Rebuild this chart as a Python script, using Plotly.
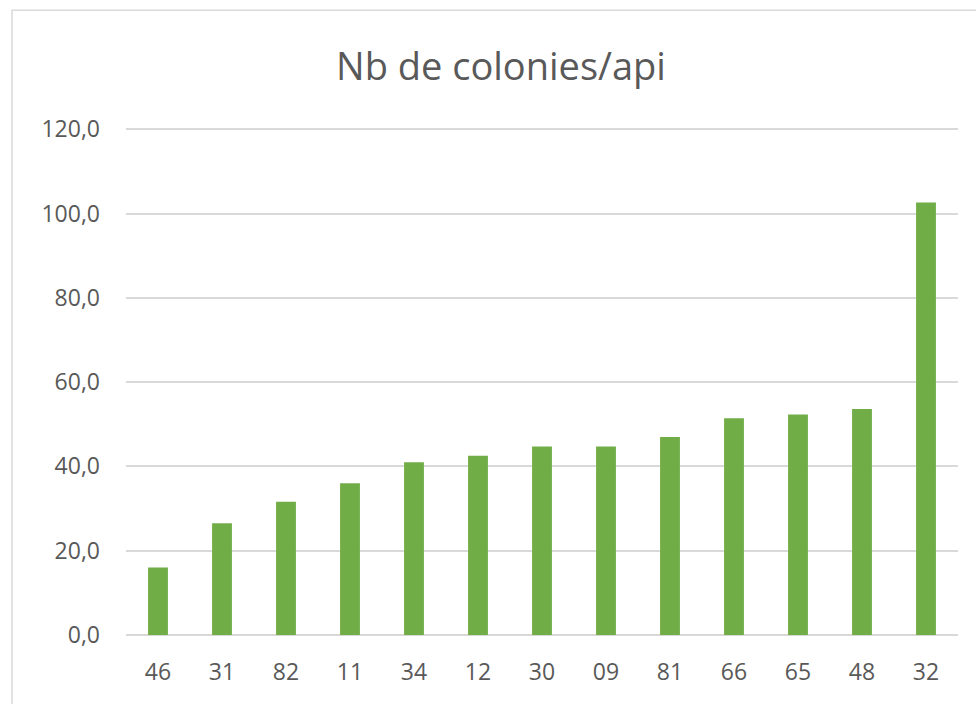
import plotly.graph_objects as go

# departements, sorted by value
departements = ['46', '31', '82', '11', '34', '12', '30', '09', '81', '66', '65', '48', '32']
colonies_api = [16.0, 26.5, 31.6, 36.0, 41.0, 42.5, 44.7, 44.7, 47.0, 51.4, 52.3, 53.6, 102.6]
y_ticks = [0, 20, 40, 60, 80, 100, 120]

W, H = 976, 704
y_max = 121
# pixel box of the plot area (0 at y=635, 120 at y=129)
plot_l, plot_r, plot_b = 126, 958, 635
plot_t = plot_b - (635 - 129) / 120 * y_max

fig = go.Figure()
fig.add_trace(go.Bar(x=departements, y=colonies_api, marker=dict(color='#70AD47', line=dict(width=0)),
                     hovertemplate='%{x}: %{y:.1f}<extra></extra>'))

# chart area border (excel style)
pw = plot_r - plot_l
ph = plot_b - plot_t
fig.add_shape(type='rect', xref='paper', yref='paper',
              x0=(12 - plot_l) / pw, x1=(W + 20 - plot_l) / pw,
              y0=(plot_b - (H + 20)) / ph, y1=(plot_b - 10) / ph,
              line=dict(color='#d9d9d9', width=1.5), fillcolor='rgba(0,0,0,0)', layer='below')

fig.update_layout(
    width=W, height=H,
    margin=dict(l=plot_l, r=W - plot_r, t=plot_t, b=H - plot_b, pad=0),
    paper_bgcolor='white', plot_bgcolor='white',
    separators=', ',
    showlegend=False,
    bargap=0.69,
    font=dict(family='Open Sans, sans-serif', color='#595959', size=23),
    title=dict(text='Nb de colonies/api', x=501 / W, xanchor='center', xref='container',
               y=1 - 67 / H, yanchor='middle', yref='container',
               font=dict(size=38, color='#595959', family='Open Sans, sans-serif')),
)
fig.update_yaxes(range=[0, y_max], tickvals=y_ticks, tickformat='.1f', showgrid=True, gridcolor='#d9d9d9',
                 gridwidth=1.5, zeroline=True, zerolinecolor='#d9d9d9', zerolinewidth=1.5,
                 showline=False, ticks='', ticklabelstandoff=25)
fig.update_xaxes(showgrid=False, showline=False, ticks='', ticklabelstandoff=21)

fig.write_html('out.html', config={'displayModeBar': False},
               post_script="document.body.style.margin='0';")
